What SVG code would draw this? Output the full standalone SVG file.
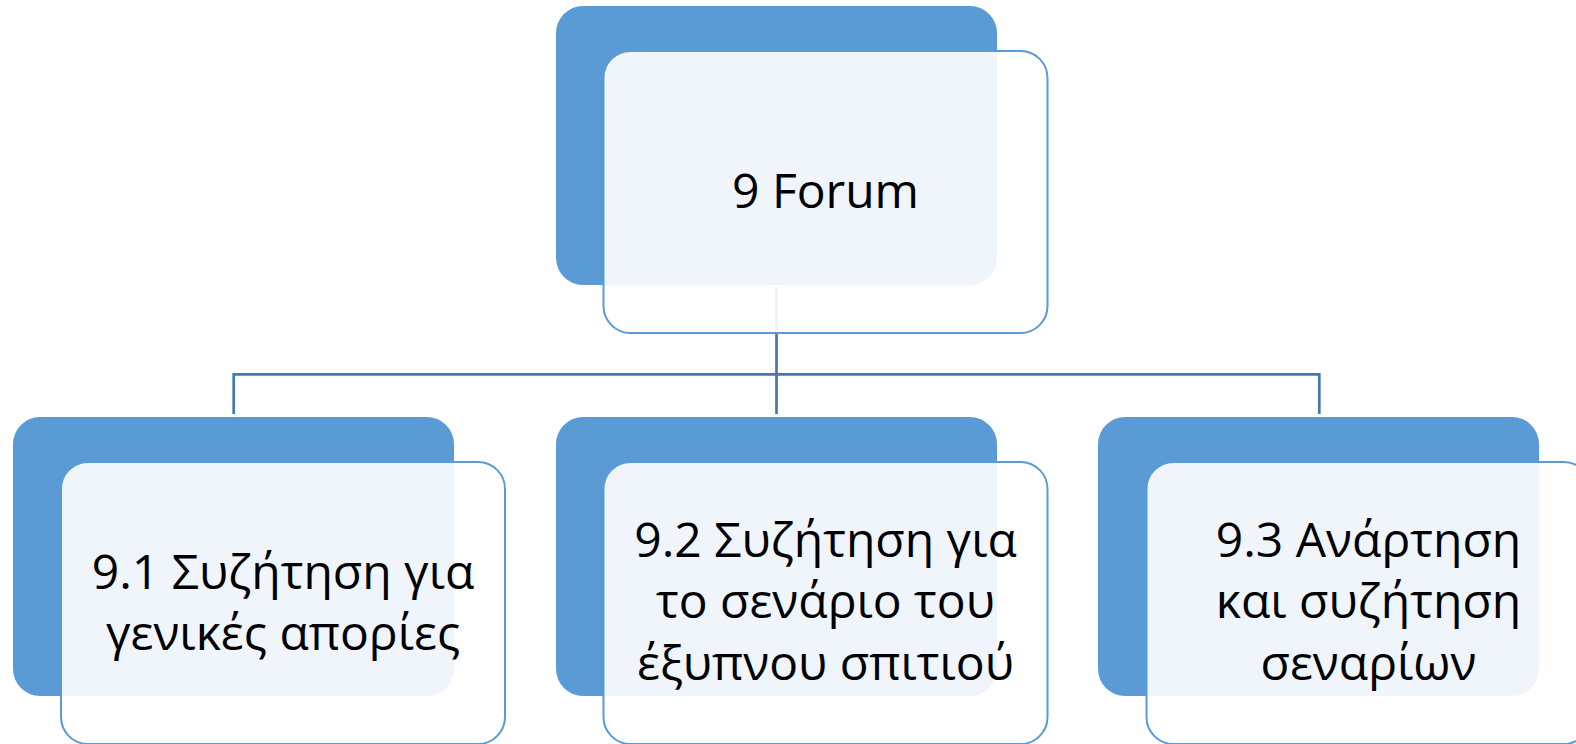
<svg xmlns="http://www.w3.org/2000/svg" width="1576" height="744" viewBox="0 0 1576 744">
<style>
.back{fill:#5B9BD5;}
.front{fill:#FFFFFF;fill-opacity:0.9;stroke:#5B9BD5;stroke-width:2;}
.lbl{font-family:"Open Sans","Noto Sans","DejaVu Sans",sans-serif;font-size:48px;fill:#000000;text-anchor:middle;}
.conn{fill:none;stroke:#4677AE;stroke-width:2.7;}
</style>
<rect width="1576" height="744" fill="#FFFFFF"/>
<g id="connectors">
<path class="conn" d="M776.5 287 V374.3 M233.7 414 V374.3 H1319.3 V414 M776.5 374.3 V414"/>
</g>
<g id="node-9">
<rect class="back" x="556" y="6" width="441" height="279" rx="27"/>
<rect class="front" x="603.5" y="51" width="444" height="282" rx="27"/>
<text class="lbl" x="825.5" y="208">9 Forum</text>
</g>
<g id="node-9-1">
<rect class="back" x="13" y="417" width="441" height="279" rx="27"/>
<rect class="front" x="61" y="462" width="444" height="282" rx="27"/>
<text class="lbl" x="283" y="589">9.1 Συζήτηση για</text>
<text class="lbl" x="283" y="650">γενικές απορίες</text>
</g>
<g id="node-9-2">
<rect class="back" x="556" y="417" width="441" height="279" rx="27"/>
<rect class="front" x="603.5" y="462" width="444" height="282" rx="27"/>
<text class="lbl" x="825.5" y="557">9.2 Συζήτηση για</text>
<text class="lbl" x="825.5" y="618">το σενάριο του</text>
<text class="lbl" x="825.5" y="680">έξυπνου σπιτιού</text>
</g>
<g id="node-9-3">
<rect class="back" x="1098" y="417" width="441" height="279" rx="27"/>
<rect class="front" x="1146.5" y="462" width="444" height="282" rx="27"/>
<text class="lbl" x="1368.5" y="557">9.3 Ανάρτηση</text>
<text class="lbl" x="1368.5" y="618">και συζήτηση</text>
<text class="lbl" x="1368.5" y="680">σεναρίων</text>
</g>
</svg>
